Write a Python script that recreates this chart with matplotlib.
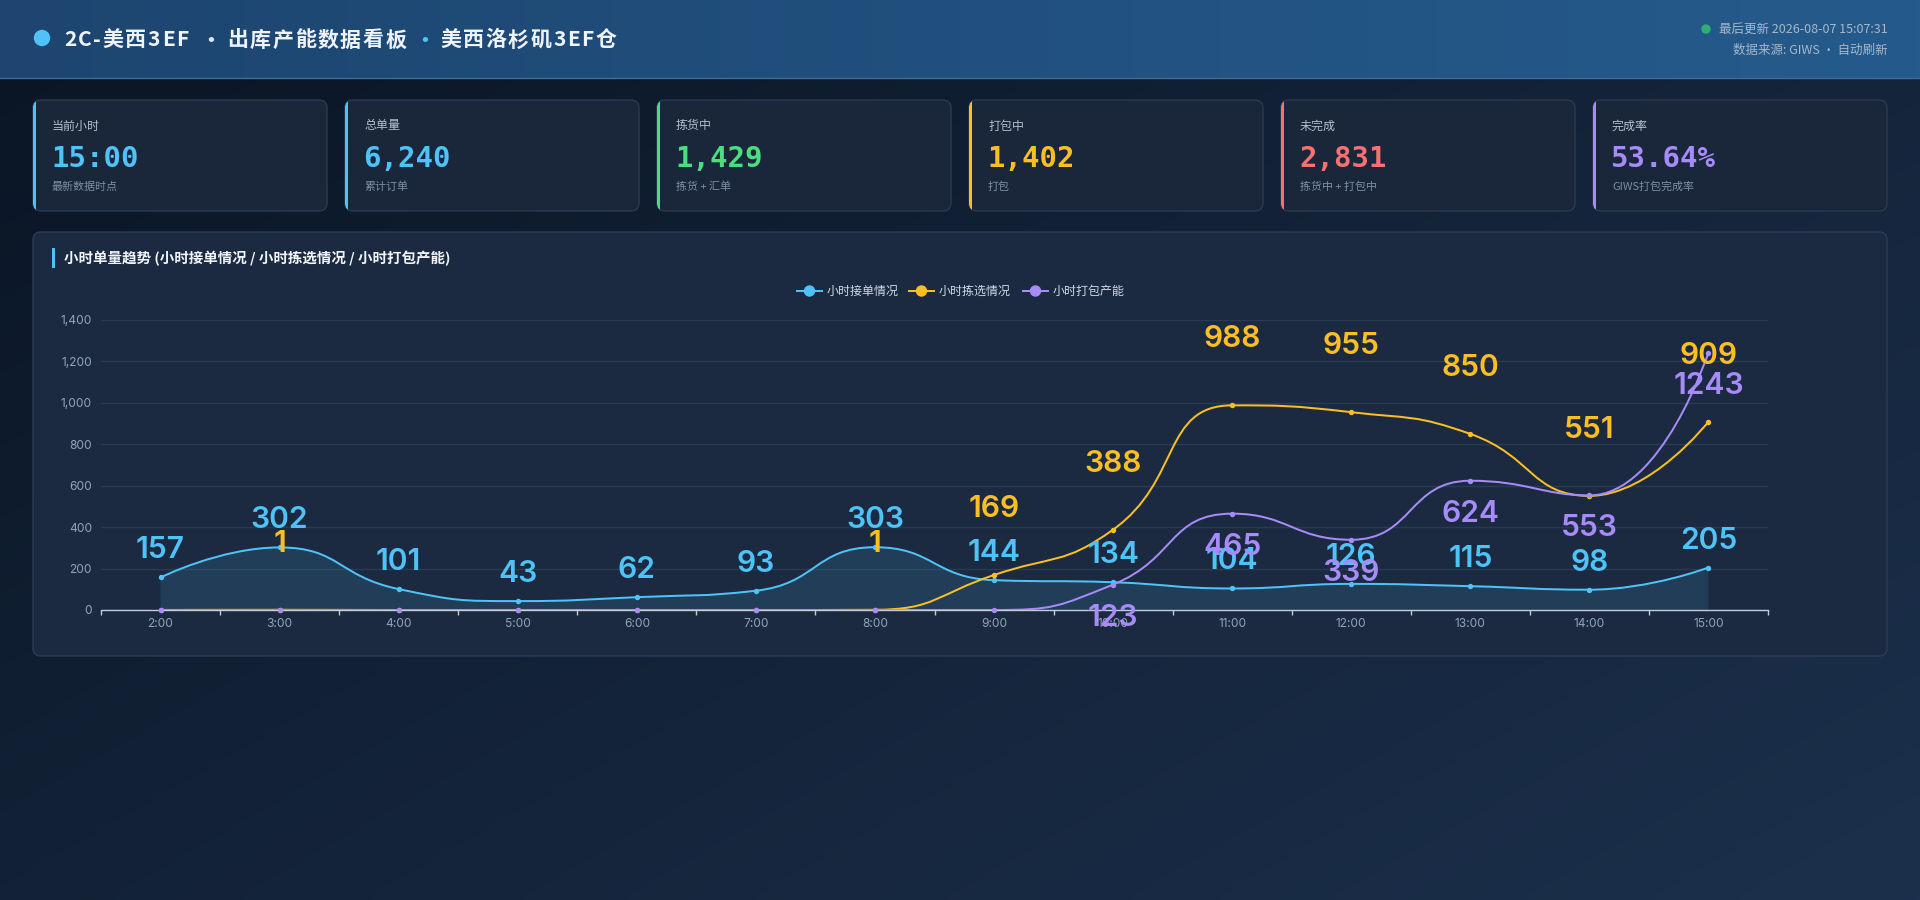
import math
import numpy as np
import matplotlib
matplotlib.use('Agg')
import matplotlib.pyplot as plt
from matplotlib.patches import FancyBboxPatch, Rectangle, Circle, PathPatch
from matplotlib.path import Path
from matplotlib.lines import Line2D
from matplotlib.colors import to_rgb
from matplotlib.ticker import FixedLocator, FuncFormatter

plt.rcParams['font.family'] = ['Noto Sans CJK SC', 'DejaVu Sans']

# ---------------- data ----------------
hours = ['2:00', '3:00', '4:00', '5:00', '6:00', '7:00', '8:00', '9:00',
         '10:00', '11:00', '12:00', '13:00', '14:00', '15:00']
orders = [157, 302, 101, 43, 62, 93, 303, 144, 134, 104, 126, 115, 98, 205]
picking = [0, 1, 0, 0, 0, 0, 1, 169, 388, 988, 955, 850, 551, 909]
packing = [0, 0, 0, 0, 0, 0, 0, 0, 123, 465, 339, 624, 553, 1243]
series_names = ['小时接单情况', '小时拣选情况', '小时打包产能']
y_ticks = [0, 200, 400, 600, 800, 1000, 1200, 1400]

card_titles = ['当前小时', '总单量', '拣货中', '打包中', '未完成', '完成率']
card_values = ['15:00', '6,240', '1,429', '1,402', '2,831', '53.64%']
card_subs = ['最新数据时点', '累计订单', '拣货 + 汇单', '打包', '拣货中 + 打包中', 'GIWS打包完成率']

title_parts = ['2C-美西3EF', '·', '出库产能数据看板', '·', '美西洛杉矶3EF仓']
chart_title = '小时单量趋势 (小时接单情况 / 小时拣选情况 / 小时打包产能)'
update_text = '最后更新 2026-08-07 15:07:31'
source_text = '数据来源: GIWS · 自动刷新'

# ---------------- style ----------------
CYAN = '#4fc3f7'
YELLOW = '#fbbf24'
PURPLE = '#a78bfa'
GREEN = '#4ade80'
RED = '#f87171'
series_colors = [CYAN, YELLOW, PURPLE]
card_colors = [CYAN, CYAN, GREEN, YELLOW, RED, PURPLE]

W, H = 1920, 900
PT = 0.72  # points per pixel at dpi 100

fig = plt.figure(figsize=(W / 100, H / 100), dpi=100)
bg = fig.add_axes([0, 0, 1, 1], zorder=0)
bg.set_xlim(0, W)
bg.set_ylim(H, 0)
bg.axis('off')
renderer = fig.canvas.get_renderer()


def grad_img(c0, c1, w, h, mode='diag'):
    a = np.array(to_rgb(c0))
    b = np.array(to_rgb(c1))
    xs = np.linspace(0, 1, w)
    ys = np.linspace(0, 1, h)
    X, Y = np.meshgrid(xs, ys)
    if mode == 'diag':
        t = (X * 0.55 + Y * 0.45)
    else:
        t = X
    return a[None, None, :] * (1 - t[..., None]) + b[None, None, :] * t[..., None]


def spaced_text(x, y, s, spacing, **kw):
    """Draw text char by char with extra letter spacing (px)."""
    for ch in s:
        t = bg.text(x, y, ch, **kw)
        w = t.get_window_extent(renderer).width
        x += w + spacing
    return x


# page background
bg.imshow(grad_img('#0a1524', '#1c304c', 192, 90), extent=[0, W, H, 0],
          aspect='auto', zorder=0, interpolation='bilinear')
# header
bg.imshow(grad_img('#1d4570', '#255b8c', 192, 8, mode='h'), extent=[0, W, 78, 0],
          aspect='auto', zorder=1, interpolation='bilinear')
bg.plot([0, W], [78, 78], color='#3f6c98', lw=1, zorder=2)

# header title
bg.add_patch(Circle((42, 38), 7.5, color=CYAN, zorder=3))
title_x = [64, 211, 227, 425, 440]
title_cols = ['#eef3f9', '#dfe8f2', '#eef3f9', CYAN, '#eef3f9']
for k, (tx, part, col) in enumerate(zip(title_x, title_parts, title_cols)):
    if part == '·':
        bg.text(tx, 40, part, fontsize=21 * PT, fontweight='bold', color=col,
                va='center', ha='center', zorder=3)
    else:
        spaced_text(tx, 40, part, 1.6, fontsize=21 * PT, fontweight='bold', color=col,
                    va='center', ha='left', zorder=3)

bg.text(1888, 29, update_text, fontsize=12.5 * PT, color='#a7b8ca', ha='right',
        va='center', zorder=3)
bg.add_patch(Circle((1706, 29), 4, color='#2faf78', zorder=3))
bg.text(1888, 50, source_text, fontsize=12.5 * PT, color='#a7b8ca', ha='right',
        va='center', zorder=3)

# ---------------- cards ----------------
card_w, card_gap, card_x0, card_y0, card_h = 294, 18, 33, 100, 111
for i in range(6):
    cx = card_x0 + i * (card_w + card_gap)
    box = FancyBboxPatch((cx, card_y0), card_w, card_h,
                         boxstyle='round,pad=0,rounding_size=8',
                         facecolor='#1a273b', edgecolor='#2b3a51', lw=1, zorder=3)
    bg.add_patch(box)
    strip = Rectangle((cx - 1, card_y0 - 1), 4, card_h + 2, facecolor=card_colors[i],
                      edgecolor='none', zorder=4)
    bg.add_patch(strip)
    strip.set_clip_path(box)
    bg.text(cx + 19, 126, card_titles[i], fontsize=12 * PT, color='#b3bfce',
            va='center', ha='left', zorder=5)
    bg.text(cx + 18, 159, card_values[i], fontsize=29 * PT, fontweight='bold',
            family=['DejaVu Sans Mono'], color=card_colors[i], va='center',
            ha='left', zorder=5)
    bg.text(cx + 19, 187, card_subs[i], fontsize=11 * PT, color='#7f8fa4',
            va='center', ha='left', zorder=5)

# ---------------- chart panel ----------------
panel = FancyBboxPatch((33, 232), 1854, 424, boxstyle='round,pad=0,rounding_size=8',
                       facecolor='#1b2a40', edgecolor='#2c3c55', lw=1, zorder=3)
bg.add_patch(panel)
bg.add_patch(Rectangle((52, 248), 3, 20, facecolor=CYAN, edgecolor='none', zorder=4))
bg.text(64, 258, chart_title, fontsize=14.5 * PT, fontweight='bold', color='#f1f5fa',
        va='center', ha='left', zorder=4)

# legend
leg_line_x = [797, 909, 1023]
for lx, name, col in zip(leg_line_x, series_names, series_colors):
    bg.add_line(Line2D([lx, lx + 25], [291, 291], color=col, lw=2 * PT, zorder=4))
    bg.add_patch(Circle((lx + 12.5, 291), 5, color=col, zorder=5))
    bg.text(lx + 30, 291, name, fontsize=12 * PT, color='#d3dbe6', va='center',
            ha='left', zorder=5)

# ---------------- chart axes ----------------
ax_l, ax_r, ax_t, ax_b = 101, 1768, 320, 610
ax = fig.add_axes([ax_l / W, (H - ax_b) / H, (ax_r - ax_l) / W, (ax_b - ax_t) / H],
                  zorder=2)
ax.patch.set_alpha(0)
n = len(hours)
ax.set_xlim(-0.5, n - 0.5)
ax.set_ylim(0, 1400)
sx = (ax_r - ax_l) / n          # px per category
sy = (ax_b - ax_t) / 1400.0     # px per unit

for s in ['top', 'right', 'left']:
    ax.spines[s].set_visible(False)
ax.spines['bottom'].set_color('#c3ccd8')
ax.spines['bottom'].set_linewidth(1)

ax.yaxis.set_major_locator(FixedLocator(y_ticks))
ax.yaxis.set_major_formatter(FuncFormatter(lambda v, p: f'{int(v):,}'))
ax.tick_params(axis='y', length=0, pad=9 * PT, labelsize=12 * PT, labelcolor='#93a4b8')
for lab in ax.get_yticklabels():
    lab.set_family(['Inter', 'DejaVu Sans'])
ax.grid(axis='y', color='#2a3a51', lw=1)
ax.set_axisbelow(True)

ax.xaxis.set_major_locator(FixedLocator(np.arange(-0.5, n, 1.0)))
ax.xaxis.set_major_formatter(FuncFormatter(lambda v, p: ''))
ax.xaxis.set_minor_locator(FixedLocator(np.arange(n)))
ax.xaxis.set_minor_formatter(FuncFormatter(lambda v, p: hours[int(round(v))]))
ax.tick_params(axis='x', which='major', length=5 * PT, width=1, color='#c3ccd8',
               direction='out')
ax.tick_params(axis='x', which='minor', length=0, pad=8 * PT, labelsize=12 * PT,
               labelcolor='#93a4b8')
for lab in ax.xaxis.get_minorticklabels():
    lab.set_family(['Inter', 'DejaVu Sans'])


def smooth_verts(vals, smooth=0.5):
    """ECharts-like smoothing: control points computed in pixel space."""
    pts = [(i * sx, v * sy) for i, v in enumerate(vals)]
    verts = [pts[0]]
    codes = [Path.MOVETO]
    cp0 = pts[0]
    m = len(pts)
    for k in range(1, m):
        x, y = pts[k]
        px, py = pts[k - 1]
        if k == m - 1:
            c1 = (x, y)
            ncp = (x, y)
        else:
            nx, ny = pts[k + 1]
            vx, vy = nx - px, ny - py
            lp = math.hypot(x - px, y - py)
            ln = math.hypot(nx - x, ny - y)
            r = ln / (ln + lp)
            ncx = x + vx * smooth * r
            ncy = y + vy * smooth * r
            ncx = max(min(ncx, max(nx, x)), min(nx, x))
            ncy = max(min(ncy, max(ny, y)), min(ny, y))
            vx, vy = ncx - x, ncy - y
            c1x = x - vx * lp / ln
            c1y = y - vy * lp / ln
            c1x = max(min(c1x, max(px, x)), min(px, x))
            c1y = max(min(c1y, max(py, y)), min(py, y))
            vx, vy = x - c1x, y - c1y
            ncx = x + vx * ln / lp
            ncy = y + vy * ln / lp
            c1 = (c1x, c1y)
            ncp = (ncx, ncy)
        verts += [cp0, c1, (x, y)]
        codes += [Path.CURVE4] * 3
        cp0 = ncp
    verts = [(vx_ / sx, vy_ / sy) for vx_, vy_ in verts]
    return verts, codes


all_series = [orders, picking, packing]

# area for orders
v, c = smooth_verts(orders)
fill_verts = v + [(n - 1, 0), (0, 0), (0, 0)]
fill_codes = c + [Path.LINETO, Path.LINETO, Path.CLOSEPOLY]
ax.add_patch(PathPatch(Path(fill_verts, fill_codes), facecolor=CYAN, alpha=0.13,
                       edgecolor='none', zorder=2))

for vals, col in zip(all_series, series_colors):
    v, c = smooth_verts(vals)
    ax.add_patch(PathPatch(Path(v, c), facecolor='none', edgecolor=col, lw=2 * PT,
                           zorder=3, capstyle='round', joinstyle='round'))
    ax.plot(range(n), vals, 'o', color=col, ms=4 * PT, zorder=4, clip_on=False)

# data labels
label_offsets = [27, 66, -33]  # px, positive = above point
for vals, col, off in zip(all_series, series_colors, label_offsets):
    for i, val in enumerate(vals):
        if val == 0:
            continue
        ax.annotate(str(val), (i, val), xytext=(0, off * PT), textcoords='offset points',
                    ha='center', va='center', fontsize=30 * PT, color=col,
                    family=['Inter', 'DejaVu Sans'], fontweight='semibold',
                    zorder=6, annotation_clip=False)

fig.savefig('out.png', dpi=100, facecolor=fig.get_facecolor())
